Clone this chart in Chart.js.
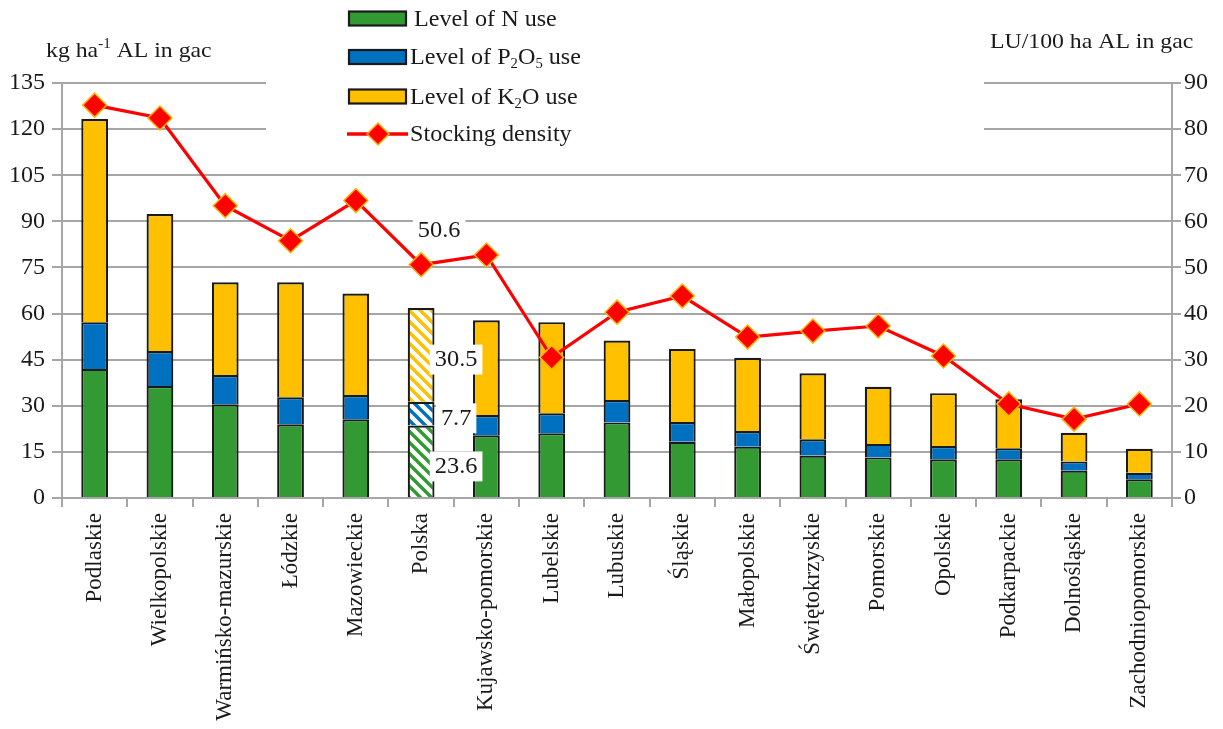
<!DOCTYPE html>
<html><head><meta charset="utf-8">
<script src="https://cdn.jsdelivr.net/npm/chart.js@4"></script>
<style>html,body{margin:0;padding:0;background:#fff;overflow:hidden}#wrap{width:1223px;height:729px;position:relative}</style>
</head><body><div id="wrap"><canvas id="c" width="1223" height="729"></canvas></div>
<script>
const categories = ['Podlaskie','Wielkopolskie','Warmińsko-mazurskie','Łódzkie','Mazowieckie','Polska','Kujawsko-pomorskie','Lubelskie','Lubuskie','Śląskie','Małopolskie','Świętokrzyskie','Pomorskie','Opolskie','Podkarpackie','Dolnośląskie','Zachodniopomorskie'];
const nUse    = [42.0, 36.4, 30.5, 24.0, 25.6, 23.6, 20.4, 21.1, 24.6, 18.3, 16.7, 13.8, 13.2, 12.6, 12.6, 8.9, 6.1];
const p2o5Use = [15.2, 11.4, 9.5, 8.8, 7.9, 7.7, 6.6, 6.5, 7.3, 6.4, 5.1, 5.3, 4.4, 4.3, 3.6, 3.0, 2.1];
const k2oUse  = [66.1, 44.6, 30.2, 37.4, 33.0, 30.5, 30.8, 29.6, 19.3, 23.8, 23.8, 21.5, 18.6, 17.2, 15.9, 9.3, 7.8];
const stockingDensity = [85.2, 82.4, 63.4, 55.8, 64.5, 50.6, 52.7, 30.5, 40.3, 43.8, 34.9, 36.2, 37.3, 30.8, 20.4, 17.1, 20.4];
const leftTicks  = [0, 15, 30, 45, 60, 75, 90, 105, 120, 135];
const rightTicks = [0, 10, 20, 30, 40, 50, 60, 70, 80, 90];
const highlightCategory = 'Polska';
const leftTitle  = [{t:'kg ha'},{t:'-1',s:'sup'},{t:' AL in gac'}];
const rightTitle = [{t:'LU/100 ha AL in gac'}];
const legendItems = [
  [{t:'Level of N use'}],
  [{t:'Level of P'},{t:'2',s:'sub'},{t:'O'},{t:'5',s:'sub'},{t:' use'}],
  [{t:'Level of K'},{t:'2',s:'sub'},{t:'O use'}],
  [{t:'Stocking density'}]
];

const GREEN='#339933', BLUE='#0070c0', YELLOW='#ffc000', RED='#ff0000', GRID='#a6a6a6';
const FONT='Liberation Serif';
const hiIdx = categories.indexOf(highlightCategory);

function hatch(color){
  const s=11, c=document.createElement('canvas'); c.width=s; c.height=s;
  const g=c.getContext('2d'); g.fillStyle='#fff'; g.fillRect(0,0,s,s);
  g.strokeStyle=color; g.lineWidth=3.4; g.lineCap='square';
  g.beginPath();
  g.moveTo(-s/2,s/2); g.lineTo(s/2,s*1.5);
  g.moveTo(0,0); g.lineTo(s,s);
  g.moveTo(s/2,-s/2); g.lineTo(s*1.5,s/2);
  g.stroke();
  return g.createPattern(c,'repeat');
}
const pats={green:hatch(GREEN),blue:hatch(BLUE),yellow:hatch(YELLOW)};
const fill=(col,pat)=>ctx=>ctx.dataIndex===hiIdx?pat:col;

function drawRich(ctx,x,y,parts,size,sx){
  sx=sx||1;
  ctx.save(); ctx.translate(x,y); ctx.scale(sx,1);
  let cx=0;
  for(const p of parts){
    const sz=p.s?Math.round(size*0.62):size;
    const dy=p.s==='sub'?size*0.28:(p.s==='sup'?-size*0.4:0);
    ctx.font=sz+'px "'+FONT+'"';
    ctx.fillText(p.t,cx,dy);
    cx+=ctx.measureText(p.t).width;
  }
  ctx.restore();
}
function diamond(ctx,x,y,r){
  ctx.beginPath(); ctx.moveTo(x,y-r); ctx.lineTo(x+r,y); ctx.lineTo(x,y+r); ctx.lineTo(x-r,y); ctx.closePath();
  ctx.fillStyle=RED; ctx.fill(); ctx.lineWidth=1.5; ctx.strokeStyle='#ffb300'; ctx.stroke();
}
function boxLabel(ctx,txt,cx,cy,size){
  ctx.font=size+'px "'+FONT+'"';
  const w=ctx.measureText(txt).width*1.06;
  ctx.fillStyle='#fff'; ctx.fillRect(cx-w/2-5,cy-size*0.62,w+10,size*1.3);
  ctx.fillStyle='#1a1a1a'; ctx.textAlign='center'; ctx.textBaseline='middle';
  ctx.save(); ctx.translate(cx,cy+1); ctx.scale(1.06,1); ctx.fillText(txt,0,0); ctx.restore();
}

const overlay={
  id:'overlay',
  beforeDatasetsDraw(chart){
    const c=chart.ctx; c.save(); c.fillStyle='#fff'; c.fillRect(266,0,718,150); c.restore();
  },
  afterDatasetsDraw(chart){
    const c=chart.ctx, xs=chart.scales.x, ys=chart.scales.y, y1=chart.scales.y1;
    c.save();
    const px=xs.getPixelForValue(hiIdx);
    boxLabel(c, stockingDensity[hiIdx].toFixed(1), px+18, y1.getPixelForValue(stockingDensity[hiIdx])-35, 23);
    const a=nUse[hiIdx], b=a+p2o5Use[hiIdx], t=b+k2oUse[hiIdx];
    const segs=[[0,a],[a,b],[b,t]];
    const vals=[nUse[hiIdx],p2o5Use[hiIdx],k2oUse[hiIdx]];
    segs.forEach((s,i)=>{
      const cy=ys.getPixelForValue((s[0]+s[1])/2)+4;
      boxLabel(c, vals[i].toFixed(1), px+35, cy, 23);
    });
    c.restore();
  },
  afterDraw(chart){
    const c=chart.ctx; c.save();
    c.fillStyle='#1a1a1a'; c.textAlign='left'; c.textBaseline='alphabetic';
    drawRich(c,46,57,leftTitle,22,1.08);
    drawRich(c,990,48,rightTitle,22,1.08);
    const cols=[GREEN,BLUE,YELLOW];
    const ly=[18.5,57,96.5,134];
    for(let i=0;i<3;i++){
      c.fillStyle=cols[i]; c.fillRect(349,ly[i]-7,57,14);
      c.lineWidth=2.2; c.strokeStyle='#1a1a1a'; c.strokeRect(349,ly[i]-7,57,14);
    }
    c.strokeStyle=RED; c.lineWidth=3.5; c.beginPath(); c.moveTo(347,ly[3]); c.lineTo(408,ly[3]); c.stroke();
    diamond(c,378,ly[3],11);
    c.fillStyle='#1a1a1a'; c.textBaseline='middle';
    drawRich(c,414,ly[0]+1,legendItems[0],23,1.05);
    for(let i=1;i<4;i++) drawRich(c,410,ly[i]+1,legendItems[i],23,1.05);
    c.restore();
  }
};

new Chart(document.getElementById('c'),{
  data:{
    labels:categories,
    datasets:[
      {type:'line',label:'Stocking density',data:stockingDensity,yAxisID:'y1',order:0,
       borderColor:RED,borderWidth:3.2,tension:0,pointStyle:'rectRot',pointRadius:12,
       pointBackgroundColor:RED,pointBorderColor:'#ffb300',pointBorderWidth:1.5},
      {type:'bar',label:'Level of N use',data:nUse,yAxisID:'y',order:1,backgroundColor:fill(GREEN,pats.green),borderColor:'#1a1a1a',borderWidth:2.2,categoryPercentage:1,barPercentage:0.41},
      {type:'bar',label:'Level of P2O5 use',data:p2o5Use,yAxisID:'y',order:1,backgroundColor:fill(BLUE,pats.blue),borderColor:'#1a1a1a',borderWidth:2.2,categoryPercentage:1,barPercentage:0.41},
      {type:'bar',label:'Level of K2O use',data:k2oUse,yAxisID:'y',order:1,backgroundColor:fill(YELLOW,pats.yellow),borderColor:'#1a1a1a',borderWidth:2.2,categoryPercentage:1,barPercentage:0.41}
    ]
  },
  options:{
    responsive:false,animation:false,
    layout:{padding:{top:83,left:0,right:0,bottom:0}},
    plugins:{legend:{display:false},tooltip:{enabled:false}},
    scales:{
      x:{stacked:true,offset:true,
         grid:{offset:true,drawOnChartArea:false,drawTicks:true,tickLength:9,color:GRID,lineWidth:2},
         border:{display:true,color:GRID,width:2},
         ticks:{maxRotation:90,minRotation:90,autoSkip:false,padding:6,color:'#1a1a1a',font:{family:FONT,size:23}},
         afterFit(s){s.height=231;}},
      y:{stacked:true,position:'left',min:leftTicks[0],max:leftTicks[leftTicks.length-1],
         ticks:{stepSize:leftTicks[1]-leftTicks[0],padding:7,color:'#1a1a1a',font:{family:FONT,size:24}},
         grid:{color:GRID,lineWidth:2,tickLength:10},
         border:{display:true,color:GRID,width:2},
         afterFit(s){s.width=62;}},
      y1:{stacked:false,position:'right',min:rightTicks[0],max:rightTicks[rightTicks.length-1],
         ticks:{stepSize:rightTicks[1]-rightTicks[0],padding:3,color:'#1a1a1a',font:{family:FONT,size:24}},
         grid:{drawOnChartArea:false,color:GRID,lineWidth:2,tickLength:9},
         border:{display:true,color:GRID,width:2},
         afterFit(s){s.width=51;}}
    }
  },
  plugins:[overlay]
});
</script></body></html>
